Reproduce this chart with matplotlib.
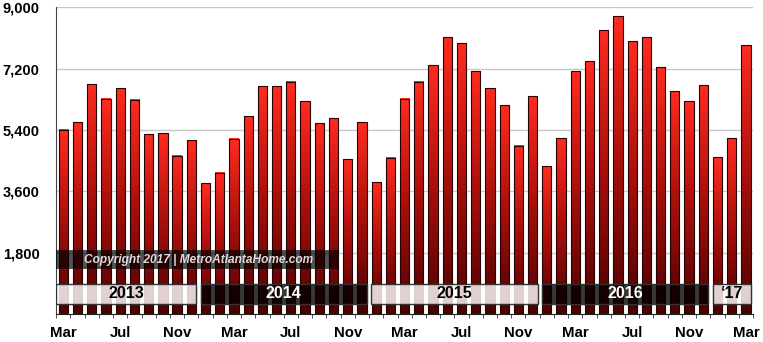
import numpy as np
import matplotlib.pyplot as plt
from matplotlib.colors import LinearSegmentedColormap
from matplotlib.patches import Rectangle

plt.rcParams['font.family'] = ['Liberation Sans', 'DejaVu Sans']

# Monthly values, Mar 2013 - Mar 2017
months = ['Mar', 'Apr', 'May', 'Jun', 'Jul', 'Aug', 'Sep', 'Oct', 'Nov', 'Dec',
          'Jan', 'Feb'] * 5
months = months[:49]
values = [5400, 5630, 6740, 6310, 6630, 6280, 5280, 5310, 4640, 5100,
          3840, 4140, 5140, 5810, 6690, 6690, 6810, 6250, 5600, 5750, 4540, 5630,
          3870, 4580, 6310, 6810, 7300, 8120, 7940, 7120, 6620, 6120, 4930, 6390,
          4340, 5160, 7130, 7420, 8330, 8740, 8000, 8120, 7240, 6540, 6240, 6710,
          4600, 5160, 7890]
years = ['2013', '2014', '2015', '2016', '\u201817']
year_start = [0, 10, 22, 34, 46]
year_end = [9, 21, 33, 45, 48]
year_light = [True, False, True, False, True]
yticks = [1800, 3600, 5400, 7200, 9000]

x = np.arange(len(values))
bw = 0.65

fig = plt.figure(figsize=(7.63, 3.42), dpi=100)
ax = fig.add_axes([0.0737, 0.0819, 0.9132, 0.8968])

cmap = LinearSegmentedColormap.from_list('redfade', ['#4a0202', '#a80f0b', '#ff2b20'])
grad = np.linspace(0, 1, 256).reshape(-1, 1)

# each bar gets its own top-to-bottom fade
for xi, v in zip(x, values):
    ax.imshow(grad, cmap=cmap, origin='lower', aspect='auto',
              extent=[xi - bw / 2, xi + bw / 2, 0, v], zorder=2)
bars = ax.bar(x, values, width=bw, facecolor='none', edgecolor='#2a0000',
              linewidth=0.8, zorder=3)

ax.set_xlim(-0.5, 48.5)
ax.set_ylim(0, 9000)

# grid and axes
ax.set_yticks(yticks)
ax.set_yticklabels([f'{t:,}' for t in yticks], fontsize=10.5, fontweight='bold')
ax.yaxis.grid(True, color='#c8c8c8', linewidth=1)
ax.set_axisbelow(True)
ax.tick_params(axis='y', length=0, pad=12)

ax.set_xticks(x[::4])
ax.set_xticklabels([months[i] for i in x[::4]], fontsize=10.8, fontweight='bold')
ax.set_xticks(np.arange(-0.5, 49, 1), minor=True)
ax.tick_params(axis='x', which='major', length=0, pad=9)
ax.tick_params(axis='x', which='minor', length=3, color='#333333')

for s in ['top', 'right']:
    ax.spines[s].set_visible(False)
ax.spines['left'].set_color('#444444')
ax.spines['bottom'].set_color('#222222')

# copyright strip
ax.add_patch(Rectangle((-0.5, 1310), 19.9, 570, facecolor='black', alpha=0.68,
                       edgecolor='none', zorder=4))
ax.text(9.5, 1595, 'Copyright 2017 | MetroAtlantaHome.com', ha='center', va='center',
        fontsize=8.6, fontweight='bold', fontstyle='italic', color='#dcdcdc', zorder=5)

# year bands
for lab, a, b, light in zip(years, year_start, year_end, year_light):
    left = a - bw / 2 - 0.02
    if a == 0:
        left = -0.5
    right = b + bw / 2 + 0.02
    fc = 'white' if light else 'black'
    al = 0.82 if light else 0.78
    ax.add_patch(Rectangle((left, 293), right - left, 587, facecolor=fc, alpha=al,
                           edgecolor='none', zorder=4))
    ax.add_patch(Rectangle((left, 293), right - left, 587, facecolor='none',
                           edgecolor='#333333', linewidth=1, zorder=5))
    ax.text((left + right) / 2, 590, lab, ha='center', va='center', fontsize=11.5,
            fontweight='bold', color='black' if light else 'white', zorder=6)

fig.savefig('out.png', dpi=100)
